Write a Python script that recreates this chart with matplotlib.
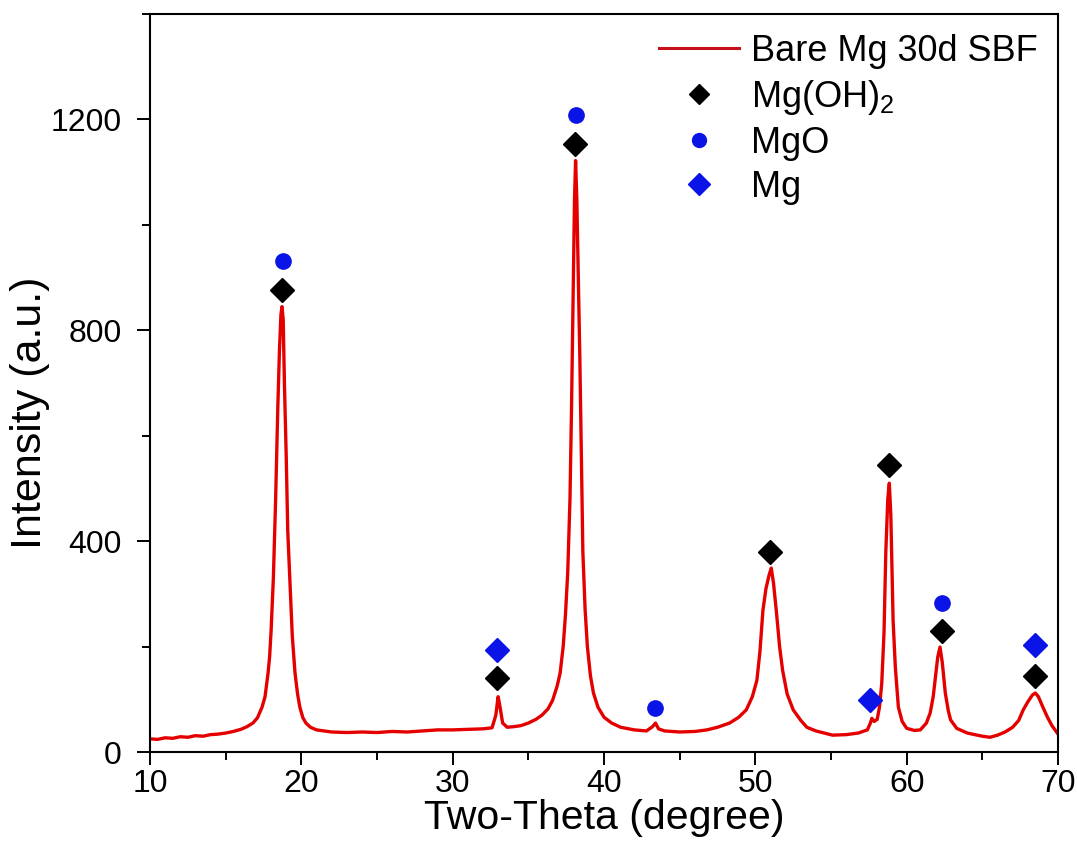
import matplotlib
matplotlib.use("Agg")
import matplotlib.pyplot as plt
from matplotlib.lines import Line2D
from matplotlib.ticker import MultipleLocator

plt.rcParams['font.family'] = ['Liberation Sans', 'DejaVu Sans']
plt.rcParams['mathtext.fontset'] = 'custom'
plt.rcParams['mathtext.rm'] = 'Liberation Sans'
plt.rcParams['mathtext.it'] = 'Liberation Sans:italic'

# XRD pattern (two-theta, intensity)
two_theta = [10.0, 10.5, 11.0, 11.5, 12.0, 12.5, 13.0, 13.5, 14.0, 14.5, 15.0, 15.5,
             16.0, 16.4, 16.8, 17.1, 17.4, 17.6, 17.8, 17.9, 18.0, 18.15, 18.3, 18.44,
             18.55, 18.65, 18.72, 18.8, 18.88, 19.0, 19.1, 19.25, 19.4, 19.58, 19.75, 19.9,
             20.1, 20.3, 20.6, 21.0, 21.5, 22.0, 23.0, 24.0, 25.0, 26.0, 27.0, 28.0,
             29.0, 30.0, 31.0, 32.0, 32.6, 32.85, 33.0, 33.1, 33.3, 33.6, 34.0, 34.5,
             35.0, 35.5, 35.9, 36.3, 36.6, 36.9, 37.1, 37.3, 37.45, 37.6, 37.75, 37.85,
             37.95, 38.05, 38.12, 38.2, 38.3, 38.4, 38.5, 38.6, 38.75, 38.9, 39.1, 39.3,
             39.6, 40.0, 40.5, 41.1, 42.0, 42.8, 43.2, 43.4, 43.6, 44.0, 45.0, 46.0,
             46.8, 47.5, 48.3, 48.9, 49.4, 49.8, 50.1, 50.3, 50.5, 50.7, 50.9, 51.05,
             51.2, 51.4, 51.6, 51.8, 52.1, 52.5, 53.0, 53.4, 54.0, 55.1, 56.0, 56.8,
             57.4, 57.6, 57.7, 57.85, 58.05, 58.2, 58.35, 58.5, 58.62, 58.75, 58.85, 58.95,
             59.1, 59.25, 59.45, 59.7, 60.0, 60.5, 60.9, 61.3, 61.55, 61.75, 61.9, 62.05,
             62.2, 62.35, 62.55, 62.75, 62.9, 63.3, 64.0, 65.0, 65.5, 66.0, 66.5, 67.0,
             67.4, 67.7, 68.0, 68.3, 68.5, 68.7, 69.0, 69.3, 69.6, 69.95]
intensity = [25, 24, 27, 26, 29, 28, 31, 30, 33, 34, 36, 39,
             43, 48, 55, 65, 85, 105, 150, 180, 230, 330, 480, 650,
             760, 830, 845, 820, 700, 560, 420, 320, 220, 150, 110, 85,
             65, 55, 47, 42, 40, 38, 37, 38, 37, 39, 38, 40,
             42, 42, 43, 44, 46, 70, 105, 90, 55, 47, 48, 50,
             55, 62, 70, 82, 98, 125, 150, 200, 260, 340, 480, 650,
             850, 1050, 1122, 1050, 900, 750, 560, 380, 270, 200, 145, 112,
             85, 66, 55, 47, 42, 40, 48, 55, 44, 40, 38, 39,
             42, 47, 55, 66, 80, 105, 136, 190, 269, 310, 335, 349,
             320, 263, 200, 155, 110, 80, 60, 47, 40, 32, 33, 36,
             42, 55, 64, 58, 62, 85, 130, 226, 380, 480, 510, 450,
             250, 160, 85, 58, 45, 41, 42, 55, 74, 105, 142, 180,
             199, 170, 112, 78, 61, 45, 36, 30, 28, 32, 38, 47,
             60, 80, 95, 108, 112, 105, 85, 66, 50, 36]

# Phase markers
mgoh2_x = [18.75, 32.95, 38.1, 50.95, 58.8, 62.3, 68.45]
mgoh2_y = [877, 140, 1153, 379, 544, 230, 145]
mgo_x = [18.8, 38.12, 43.4, 62.3]
mgo_y = [931, 1208, 83, 282]
mg_x = [32.9, 57.6, 68.45]
mg_y = [193, 99, 203]

legend_labels = ['Bare Mg 30d SBF', r'Mg(OH)$_\mathregular{2}$', 'MgO', 'Mg']

fig = plt.figure(figsize=(10.77, 8.51), dpi=100)
ax = fig.add_axes([0.1393, 0.1163, 0.9824 - 0.1393, 0.9835 - 0.1163])

red = '#e50000'
blue = '#0a14e6'
ax.plot(two_theta, intensity, color=red, lw=2.4, zorder=2)
ax.plot(mgoh2_x, mgoh2_y, ls='none', marker='D', color='black', ms=12, zorder=3)
ax.plot(mgo_x, mgo_y, ls='none', marker='o', color=blue, ms=11, zorder=3)
ax.plot(mg_x, mg_y, ls='none', marker='D', color=blue, ms=12, zorder=3)

ax.set_xlim(10, 70)
ax.set_ylim(0, 1400)
ax.xaxis.set_major_locator(MultipleLocator(10))
ax.xaxis.set_minor_locator(MultipleLocator(5))
ax.yaxis.set_minor_locator(MultipleLocator(200))
ax.set_yticks([0, 400, 800, 1200])

for s in ax.spines.values():
    s.set_linewidth(1.5)
ax.tick_params(which='both', direction='out', top=False, right=False, width=1.4)
ax.tick_params(which='major', length=9.5, labelsize=23)
ax.tick_params(which='minor', length=5.5)
ax.tick_params(axis='y', which='major', pad=11)
ax.tick_params(axis='x', which='major', pad=3)

ax.set_xlabel('Two-Theta (degree)', fontsize=29.5, labelpad=0)
ax.set_ylabel('Intensity (a.u.)', fontsize=31, labelpad=0)
ax.yaxis.set_label_coords(-0.11, 0.46)

handles = [
    Line2D([], [], color='#c8101a', lw=2.2),
    Line2D([], [], ls='none', marker='D', color='black', ms=10),
    Line2D([], [], ls='none', marker='o', color=blue, ms=10),
    Line2D([], [], ls='none', marker='D', color=blue, ms=11),
]
ax.legend(handles, legend_labels, loc='upper right', frameon=False, fontsize=26,
          handlelength=2.2, handletextpad=0.35, labelspacing=0.25,
          borderaxespad=0.2, borderpad=0.35)

fig.savefig('out.png', dpi=100)
